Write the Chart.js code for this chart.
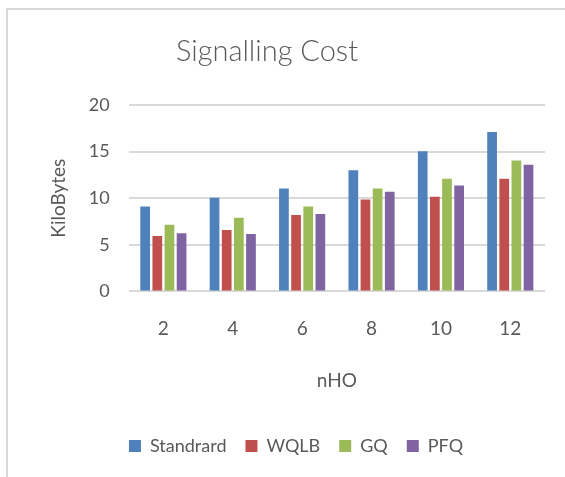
<!DOCTYPE html>
<html>
<head>
<meta charset="utf-8">
<script src="https://cdn.jsdelivr.net/npm/chart.js@4"></script>
<style>
  html, body { margin: 0; padding: 0; background: #fff; }
  #wrap { position: relative; width: 565px; height: 477px; }
  #frame { position: absolute; left: 6px; top: 8px; width: 600px; height: 500px;
           border-left: 2px solid #d9d9d9; border-top: 2px solid #d9d9d9; pointer-events: none; }
  canvas { position: absolute; left: 0; top: 0; }
</style>
</head>
<body>
<div id="wrap">
  <canvas id="chart" width="565" height="477"></canvas>
  <div id="frame"></div>
</div>
<script>
categories = ['2', '4', '6', '8', '10', '12']
standrard = [9.1, 10.05, 11.05, 13.0, 15.05, 17.1]
wqlb = [5.95, 6.6, 8.2, 9.85, 10.15, 12.1]
gq = [7.15, 7.9, 9.1, 11.05, 12.1, 14.05]
pfq = [6.25, 6.15, 8.3, 10.7, 11.35, 13.6]
yTicks = [0, 5, 10, 15, 20]

textColor = '#595959'
fontFam = 'Lato, "Open Sans", sans-serif'

// title is drawn by hand so it can sit left of the plot centre like the original
titlePlugin = {
    id: 'sigTitle',
    afterDraw(chart) {
        const ctx = chart.ctx
        ctx.save()
        ctx.fillStyle = textColor
        ctx.font = '300 29px ' + fontFam
        ctx.textAlign = 'center'
        ctx.textBaseline = 'middle'
        ctx.fillText('Signalling Cost', 267, 52)
        ctx.restore()
    }
}

new Chart(document.getElementById('chart'), {
    type: 'bar',
    data: {
        labels: categories,
        datasets: [
            { label: 'Standrard', data: standrard, backgroundColor: '#4F81BD' },
            { label: 'WQLB', data: wqlb, backgroundColor: '#C0504D' },
            { label: 'GQ', data: gq, backgroundColor: '#9BBB59' },
            { label: 'PFQ', data: pfq, backgroundColor: '#8064A2' }
        ]
    },
    options: {
        responsive: false,
        animation: false,
        datasets: { bar: { barPercentage: 0.8, categoryPercentage: 0.7 } },
        layout: { padding: { top: 105, right: 20, left: 47, bottom: 12 } },
        scales: {
            x: {
                grid: { display: false },
                border: { display: false },
                ticks: { color: textColor, font: { family: fontFam, size: 19 }, padding: 18 },
                title: { display: true, text: 'nHO', color: textColor,
                         font: { family: fontFam, size: 19 }, padding: { top: 11, bottom: 26 } }
            },
            y: {
                min: 0, max: 20,
                afterBuildTicks: axis => { axis.ticks = yTicks.map(v => ({ value: v })) },
                grid: { color: '#d9d9d9', lineWidth: 2, drawTicks: false },
                border: { display: false },
                ticks: { color: textColor, font: { family: fontFam, size: 18 }, padding: 19 },
                title: { display: true, text: 'KiloBytes', color: textColor,
                         font: { family: fontFam, size: 19 }, padding: { top: 0, bottom: 0 } }
            }
        },
        plugins: {
            legend: {
                position: 'bottom',
                labels: { boxWidth: 12, boxHeight: 12, color: textColor,
                          font: { family: fontFam, size: 18 }, padding: 19 }
            },
            tooltip: { enabled: false }
        }
    },
    plugins: [titlePlugin]
});
</script>
</body>
</html>
